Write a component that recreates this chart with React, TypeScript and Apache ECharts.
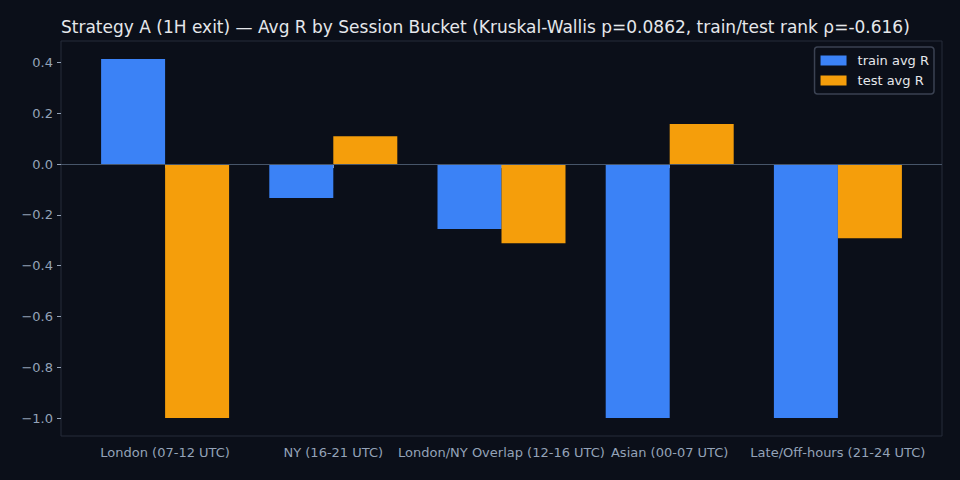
import React, { useEffect, useRef } from "react";
import * as echarts from "echarts";

const categories = [
  "London (07-12 UTC)",
  "NY (16-21 UTC)",
  "London/NY Overlap (12-16 UTC)",
  "Asian (00-07 UTC)",
  "Late/Off-hours (21-24 UTC)",
];
const trainAvgR = [0.414, -0.134, -0.256, -1.0, -1.0];
const testAvgR = [-1.0, 0.11, -0.312, 0.158, -0.292];
const yTicks = [-1.0, -0.8, -0.6, -0.4, -0.2, 0.0, 0.2, 0.4];

const TITLE =
  "Strategy A (1H exit) \u2014 Avg R by Session Bucket (Kruskal-Wallis p=0.0862, train/test rank \u03c1=-0.616)";

const BG = "#0b0f19";
const LABEL = "#94a3b8";
const FRAME = "#272d3a";
const FONT = "DejaVu Sans";

function fmt(v: number) {
  const a = Math.abs(v).toFixed(1);
  return (v < -1e-9 ? "\u2212" : "") + a;
}

export default function App() {
  const ref = useRef<HTMLDivElement>(null);
  useEffect(() => {
    document.body.style.margin = "0";
    document.body.style.background = BG;
    if (!ref.current) return;
    const chart = echarts.init(ref.current, null, { renderer: "svg" });
    const all = [...trainAvgR, ...testAvgR];
    const dMin = Math.min(...all, 0);
    const dMax = Math.max(...all, 0);
    const pad = (dMax - dMin) * 0.05;
    const yMin = dMin - pad;
    const yMax = dMax + pad;

    chart.setOption({
      animation: false,
      backgroundColor: BG,
      textStyle: { fontFamily: FONT },
      title: {
        text: TITLE,
        left: 56,
        top: 13,
        textStyle: { color: "#e5e7eb", fontSize: 17, fontWeight: "normal", fontFamily: FONT },
      },
      legend: {
        orient: "vertical",
        right: 26,
        top: 47,
        itemWidth: 26,
        itemHeight: 10,
        itemGap: 7,
        padding: [7, 5, 7, 6],
        backgroundColor: BG,
        borderColor: "#3b4252",
        borderWidth: 1.5,
        borderRadius: 3,
        icon: "rect",
        textStyle: { color: "#e5e7eb", fontSize: 13, fontFamily: FONT, padding: [0, 0, 0, 6] },
        data: ["train avg R", "test avg R"],
      },
      grid: [
        { left: 61, right: 18, top: 41, bottom: 44, show: true, borderColor: FRAME, borderWidth: 1, backgroundColor: "transparent" },
        { left: 81, right: 38, top: 41, bottom: 44 },
      ],
      xAxis: [
        { type: "value", gridIndex: 0, min: 0, max: 1, show: false },
        {
          type: "category",
          gridIndex: 1,
          data: categories,
          axisLine: { show: false },
          axisTick: { show: true, alignWithLabel: true, length: 4, lineStyle: { color: LABEL } },
          axisLabel: { color: LABEL, fontSize: 13, fontFamily: FONT, margin: 10, interval: 0 },
          splitLine: { show: false },
        },
      ],
      yAxis: [
        {
          type: "value",
          gridIndex: 0,
          min: yMin,
          max: yMax,
          axisLine: { show: false },
          splitLine: { show: false },
          axisTick: { show: true, length: 4, customValues: yTicks, lineStyle: { color: LABEL } },
          axisLabel: {
            color: LABEL,
            fontSize: 13,
            fontFamily: FONT,
            margin: 8,
            customValues: yTicks,
            formatter: (v: number) => fmt(v),
          },
        },
        { type: "value", gridIndex: 1, min: yMin, max: yMax, show: false },
      ],
      series: [
        {
          type: "line",
          xAxisIndex: 0,
          yAxisIndex: 0,
          data: [],
          markLine: {
            silent: true,
            symbol: "none",
            label: { show: false },
            lineStyle: { color: "#475569", width: 1, type: "solid" },
            data: [{ yAxis: 0 }],
          },
        },
        {
          name: "train avg R",
          type: "bar",
          xAxisIndex: 1,
          yAxisIndex: 1,
          data: trainAvgR,
          barWidth: 64,
          barGap: "0%",
          itemStyle: { color: "#3b82f6" },
          z: 1,
        },
        {
          name: "test avg R",
          type: "bar",
          xAxisIndex: 1,
          yAxisIndex: 1,
          data: testAvgR,
          barWidth: 64,
          barGap: "0%",
          itemStyle: { color: "#f59e0b" },
          z: 1,
        },
      ],
    });
    return () => chart.dispose();
  }, []);
  return <div ref={ref} style={{ width: 960, height: 480 }} />;
}
